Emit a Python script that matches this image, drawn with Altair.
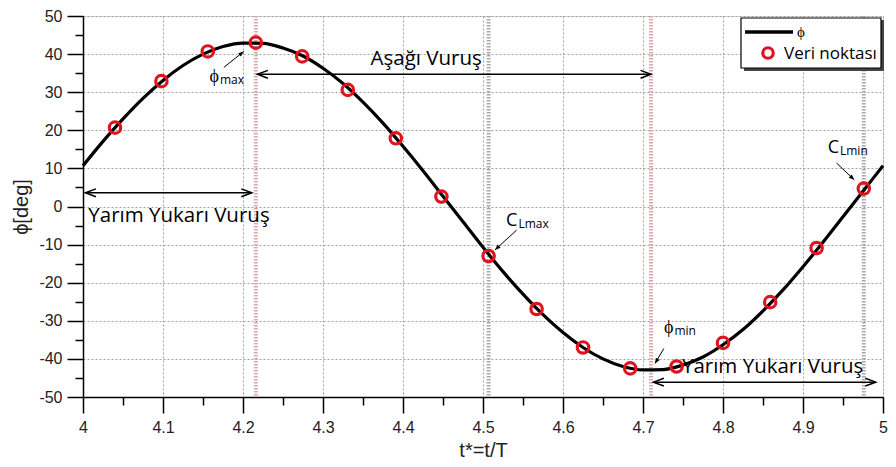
import math
import altair as alt
import pandas as pd

# ---------------- data ----------------
t_curve = [4.000, 4.025, 4.050, 4.075, 4.100, 4.125, 4.150, 4.175, 4.200, 4.225,
           4.250, 4.275, 4.300, 4.325, 4.350, 4.375, 4.400, 4.425, 4.450, 4.475,
           4.500, 4.525, 4.550, 4.575, 4.600, 4.625, 4.650, 4.675, 4.700, 4.725,
           4.750, 4.775, 4.800, 4.825, 4.850, 4.875, 4.900, 4.925, 4.950, 4.975, 5.000]
phi_curve = [10.7, 17.1, 23.0, 28.4, 33.1, 37.0, 40.0, 42.0, 42.9, 42.8,
             41.6, 39.5, 36.3, 32.3, 27.4, 21.9, 15.8, 9.4, 2.7, -4.0,
             -10.7, -17.1, -23.0, -28.4, -33.1, -37.0, -40.0, -42.0, -42.9, -42.8,
             -41.6, -39.5, -36.3, -32.3, -27.4, -21.9, -15.8, -9.4, -2.7, 4.0, 10.7]

t_points = [4.040, 4.098, 4.156, 4.216, 4.274, 4.331, 4.391, 4.448, 4.507,
            4.567, 4.625, 4.684, 4.742, 4.800, 4.859, 4.917, 4.976]
phi_points = [20.7, 32.9, 40.7, 43.0, 39.4, 30.6, 17.9, 2.6, -13.0,
              -26.9, -37.0, -42.5, -42.0, -35.8, -25.1, -10.9, 4.7]

event_t = [4.216, 4.507, 4.710, 4.976]
event_color = ["#dca8a8", "#a9a9a9", "#dca8a8", "#a9a9a9"]

x_ticks = [4.0, 4.1, 4.2, 4.3, 4.4, 4.5, 4.6, 4.7, 4.8, 4.9, 5.0]
x_minor = [4.05, 4.15, 4.25, 4.35, 4.45, 4.55, 4.65, 4.75, 4.85, 4.95]
y_ticks = [-50, -40, -30, -20, -10, 0, 10, 20, 30, 40, 50]
y_minor = [-45, -35, -25, -15, -5, 5, 15, 25, 35, 45]

# double-headed span arrows: start t, end t, phi
span_t1 = [4.218, 4.003, 4.713]
span_t2 = [4.710, 4.211, 4.991]
span_phi = [34.7, 3.6, -46.1]
span_label = ["Aşağı Vuruş", "Yarım Yukarı Vuruş", "Yarım Yukarı Vuruş"]
span_label_t = [4.429, 4.120, 4.862]
span_label_phi = [38.6, -2.6, -42.0]

# pointer arrows: tail -> head
ptr_t1 = [4.176, 4.542, 4.726, 4.942]
ptr_phi1 = [36.5, -6.2, -37.3, 11.4]
ptr_t2 = [4.201, 4.515, 4.715, 4.964]
ptr_phi2 = [40.7, -11.4, -41.2, 7.0]
ptr_main = ["ϕ", "C", "ϕ", "C"]
ptr_sub = ["max", "Lmax", "min", "Lmin"]
ptr_label_t = [4.170, 4.543, 4.738, 4.945]
ptr_label_phi = [33.9, -3.9, -31.9, 15.3]

# ---------------- layout ----------------
W, H = 800, 381
PX_T = W / 1.0
PX_PHI = H / 100.0

xs = alt.Scale(domain=[4, 5], nice=False, zero=False)
ys = alt.Scale(domain=[-50, 50], nice=False, zero=False)
AX_FONT = "Liberation Sans"
TXT_FONT = "Open Sans"

x_axis = alt.Axis(values=x_ticks, labelExpr="'' + datum.value", orient="bottom",
                  title="t*=t/T", grid=True, gridDash=[2, 2], gridColor="#a0a0a0",
                  gridWidth=1, tickSize=16, tickWidth=1.5, tickColor="black",
                  domainColor="black", domainWidth=1.5, labelFont=AX_FONT,
                  labelFontSize=16, labelColor="#222", labelPadding=6,
                  titleFont=AX_FONT, titleFontSize=20, titleFontWeight="normal",
                  titleColor="#222", titlePadding=5, labelFlush=False)
y_axis = alt.Axis(values=y_ticks, labelExpr="'' + datum.value", orient="left",
                  title="ϕ[deg]", grid=True, gridDash=[2, 2], gridColor="#a0a0a0",
                  gridWidth=1, tickSize=16, tickWidth=1.5, tickColor="black",
                  domainColor="black", domainWidth=1.5, labelFont=AX_FONT,
                  labelFontSize=16, labelColor="#222", labelPadding=5,
                  titleFont=AX_FONT, titleFontSize=20, titleFontWeight="normal",
                  titleColor="#222", titlePadding=7, labelFlush=False)
x_minor_axis = alt.Axis(values=x_minor, orient="bottom", labels=False, grid=False,
                        domain=False, tickSize=8, tickWidth=1.5, tickColor="black",
                        title=None)
y_minor_axis = alt.Axis(values=y_minor, orient="left", labels=False, grid=False,
                        domain=False, tickSize=8, tickWidth=1.5, tickColor="black",
                        title=None)

curve_df = pd.DataFrame({"t": t_curve, "phi": phi_curve})
pts_df = pd.DataFrame({"t": t_points, "phi": phi_points})
ev_df = pd.DataFrame({"t": event_t, "c": event_color})

minor_layer = alt.Chart(curve_df).mark_point(opacity=0).encode(
    x=alt.X("t:Q", scale=xs, axis=x_minor_axis),
    y=alt.Y("phi:Q", scale=ys, axis=y_minor_axis),
)

events = alt.Chart(ev_df).mark_rule(strokeWidth=4, strokeDash=[1.5, 1.5]).encode(
    x=alt.X("t:Q", scale=xs, axis=None),
    color=alt.Color("c:N", scale=None),
)

curve = alt.Chart(curve_df).mark_line(color="black", strokeWidth=3.2,
                                      interpolate="monotone").encode(
    x=alt.X("t:Q", scale=xs, axis=x_axis),
    y=alt.Y("phi:Q", scale=ys, axis=y_axis),
)

points = alt.Chart(pts_df).mark_point(shape="circle", size=130, filled=False,
                                      color="#e0141e", strokeWidth=3.2,
                                      opacity=1).encode(
    x=alt.X("t:Q", scale=xs, axis=None),
    y=alt.Y("phi:Q", scale=ys, axis=None),
)

# span arrows
span_df = pd.DataFrame({"t1": span_t1, "t2": span_t2, "phi": span_phi})
span_lines = alt.Chart(span_df).mark_rule(color="black", strokeWidth=1.5).encode(
    x=alt.X("t1:Q", scale=xs, axis=None), x2="t2:Q",
    y=alt.Y("phi:Q", scale=ys, axis=None),
)
heads = []
for a, b, p in zip(span_t1, span_t2, span_phi):
    heads.append({"t": a, "phi": p, "ang": 180})
    heads.append({"t": b, "phi": p, "ang": 0})
open_head = "M -2 -0.75 L 0 0 L -2 0.75"
span_heads = alt.Chart(pd.DataFrame(heads)).mark_point(
    shape=open_head, size=110, filled=False, color="black", strokeWidth=1.5,
    opacity=1).encode(
    x=alt.X("t:Q", scale=xs, axis=None),
    y=alt.Y("phi:Q", scale=ys, axis=None),
    angle=alt.Angle("ang:Q", scale=None),
)
span_text = alt.Chart(pd.DataFrame({"t": span_label_t, "phi": span_label_phi,
                                    "s": span_label})).mark_text(
    font=TXT_FONT, fontSize=20.5, color="black", align="center", baseline="middle"
).encode(
    x=alt.X("t:Q", scale=xs, axis=None),
    y=alt.Y("phi:Q", scale=ys, axis=None),
    text="s:N",
)

# pointer arrows
ptr_df = pd.DataFrame({"t1": ptr_t1, "p1": ptr_phi1, "t2": ptr_t2, "p2": ptr_phi2})
ptr_lines = alt.Chart(ptr_df).mark_rule(color="black", strokeWidth=1).encode(
    x=alt.X("t1:Q", scale=xs, axis=None), x2="t2:Q",
    y=alt.Y("p1:Q", scale=ys, axis=None), y2="p2:Q",
)
ph = []
for a, pa, b, pb in zip(ptr_t1, ptr_phi1, ptr_t2, ptr_phi2):
    dx = (b - a) * PX_T
    dy = -(pb - pa) * PX_PHI
    ang = math.degrees(math.atan2(dy, dx)) % 360
    ph.append({"t": b, "phi": pb, "ang": ang})
ptr_heads = alt.Chart(pd.DataFrame(ph)).mark_point(
    shape="M 0 0 L -2 -0.8 L -2 0.8 Z", size=30, filled=True, color="black",
    opacity=1).encode(
    x=alt.X("t:Q", scale=xs, axis=None),
    y=alt.Y("phi:Q", scale=ys, axis=None),
    angle=alt.Angle("ang:Q", scale=None),
)
lab_df = pd.DataFrame({"t": ptr_label_t, "phi": ptr_label_phi,
                       "m": ptr_main, "s": ptr_sub})
ptr_main_text = alt.Chart(lab_df).mark_text(
    font=TXT_FONT, fontSize=18, color="black", align="right", baseline="middle"
).encode(x=alt.X("t:Q", scale=xs, axis=None),
         y=alt.Y("phi:Q", scale=ys, axis=None), text="m:N")
ptr_sub_text = alt.Chart(lab_df).mark_text(
    font=TXT_FONT, fontSize=12, color="black", align="left", baseline="middle",
    dx=1, dy=3
).encode(x=alt.X("t:Q", scale=xs, axis=None),
         y=alt.Y("phi:Q", scale=ys, axis=None), text="s:N")

# legend (drawn by hand, in pixel units of the plot area)
one = pd.DataFrame({"k": [0]})
leg_shadow = alt.Chart(one).mark_rect(fill="#444").encode(
    x=alt.value(661), x2=alt.value(801), y=alt.value(4), y2=alt.value(55))
leg_box = alt.Chart(one).mark_rect(fill="white", stroke="black", strokeWidth=1.2).encode(
    x=alt.value(658), x2=alt.value(798), y=alt.value(2), y2=alt.value(52))
leg_line = alt.Chart(one).mark_rule(color="black", strokeWidth=3.5).encode(
    x=alt.value(662), x2=alt.value(710), y=alt.value(16))
leg_phi = alt.Chart(one).mark_text(font=TXT_FONT, fontSize=15, align="left",
                                   baseline="middle", color="black").encode(
    x=alt.value(714), y=alt.value(16), text=alt.value("ϕ"))
leg_pt = alt.Chart(one).mark_point(shape="circle", size=110, filled=False,
                                   color="#e0141e", strokeWidth=3.2, opacity=1).encode(
    x=alt.value(685), y=alt.value(37))
leg_txt = alt.Chart(one).mark_text(font=TXT_FONT, fontSize=17, align="left",
                                   baseline="middle", color="black").encode(
    x=alt.value(701), y=alt.value(38), text=alt.value("Veri noktası"))

chart = alt.layer(
    minor_layer, events, curve, points,
    span_lines, span_heads, span_text,
    ptr_lines, ptr_heads, ptr_main_text, ptr_sub_text,
    leg_shadow, leg_box, leg_line, leg_phi, leg_pt, leg_txt,
).resolve_axis(x="independent", y="independent").properties(
    width=W, height=H,
    autosize=alt.AutoSizeParams(type="none"),
    padding={"left": 75, "top": 8, "right": 5, "bottom": 70},
).configure_view(stroke=None).configure(background="white")

chart.save("out.html", embed_options={"renderer": "svg", "actions": False})
